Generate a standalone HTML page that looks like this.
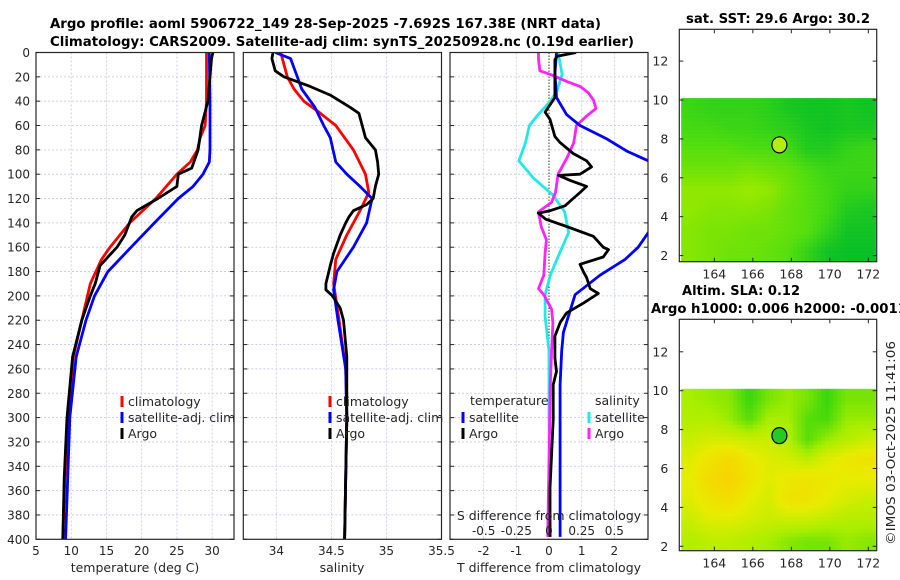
<!DOCTYPE html>
<html><head><meta charset="utf-8"><style>
body{margin:0;background:#fff}
svg{display:block;font-family:"DejaVu Sans","Liberation Sans",sans-serif}
</style></head><body>
<svg id="fig" width="900" height="580" viewBox="0 0 900 580">
<text x="50" y="28" font-weight="bold" font-size="13" fill="#000" textLength="551" lengthAdjust="spacingAndGlyphs">Argo profile: aoml 5906722_149 28-Sep-2025 -7.692S 167.38E (NRT data)</text>
<text x="50" y="46" font-weight="bold" font-size="13" fill="#000" textLength="584" lengthAdjust="spacingAndGlyphs">Climatology: CARS2009. Satellite-adj clim: synTS_20250928.nc (0.19d earlier)</text>
<g id="g"></g>
</svg>
<script>
// ---- temperature panel data ----
const argoTdepth=[0,5,20,40,60,80,95,100,110,120,130,135,150,160,175,190,200,220,250,300,350,400];
const argoT=[30.1,29.9,29.7,29.4,28.5,28.0,27.1,25.2,25.0,22.3,19.3,18.6,17.6,16.5,14.1,13.4,12.7,11.5,10.2,9.4,9.0,8.8];
const climTdepth=[0,40,60,70,80,90,100,120,140,160,170,190,220,250,300,350,400];
const climT=[29.2,29.2,29.0,28.3,27.9,26.9,25.0,22.0,18.3,15.5,14.3,12.7,11.5,10.3,9.5,9.1,8.8];
const satTdepth=[0,40,80,90,100,110,120,140,160,180,200,220,250,300,350,400];
const satT=[29.6,29.7,29.7,29.6,28.7,27.3,25.2,21.8,18.5,15.2,13.3,12.1,10.7,9.8,9.5,9.2];
const tempTicks=[5,10,15,20,25,30];
// ---- salinity panel data ----
const argoSdepth=[0,5,15,20,28,35,45,50,60,70,80,90,100,110,120,125,130,135,140,150,165,175,190,195,200,210,220,250,300,350,400];
const argoS=[33.97,33.96,33.99,34.07,34.31,34.49,34.67,34.75,34.78,34.81,34.9,34.92,34.93,34.9,34.88,34.82,34.7,34.66,34.63,34.58,34.52,34.49,34.45,34.45,34.51,34.58,34.61,34.64,34.64,34.63,34.62];
const climSdepth=[0,20,30,40,50,60,80,100,115,130,150,170,190,220,260,300,400];
const climS=[34.04,34.1,34.16,34.25,34.4,34.54,34.7,34.81,34.84,34.76,34.64,34.54,34.52,34.57,34.63,34.64,34.62];
const satSdepth=[0,5,20,30,45,60,70,90,100,110,120,140,160,180,195,220,260,300,400];
const satS=[33.99,34.13,34.19,34.23,34.35,34.43,34.49,34.54,34.64,34.76,34.87,34.82,34.7,34.55,34.52,34.56,34.63,34.64,34.62];
const salTicks=["34","34.5","35","35.5"];
// ---- difference panel data ----
const satTdiffDepth=[0,17,37,51,60,71,81,89,100,120,135,148,160,170,183,199,217,230,245,273,398];
const satTdiff=[0.23,0.18,0.23,0.54,0.95,1.77,2.38,3.04,3.6,3.8,3.4,3.04,2.73,2.33,1.56,0.8,0.59,0.44,0.39,0.34,0.34];
const argoTdiffDepth=[0,3,6,18,37,49,55,69,74,83,89,94,100,101,105,110,115,120,126,130,132,137,143,151,160,162,168,174,180,185,194,198,206,214,222,233,251,262,273,302,330,358,398];
const argoTdiff=[0.83,0.25,0.18,0.18,0.18,-0.12,0.03,0.18,0.34,0.74,1.15,1.3,0.95,0.29,0.64,1.15,0.95,0.74,0.49,0.03,-0.33,-0.1,0.54,1.36,1.66,1.82,1.66,0.95,1.05,1.15,1.26,1.51,1.05,0.54,0.34,0.18,0.18,0.23,0.13,0.13,0.08,0.03,0.03];
const satSdiffDepth=[0,18,32,40,52,60,74,89,103,117,131,148,165,183,199,217,245,302,398];
const satSdiff=[0.07,0.1,0.06,0.01,-0.09,-0.15,-0.18,-0.23,-0.12,0.03,0.12,0.15,0.08,0.01,-0.03,-0.03,0,0,0.01];
const argoSdiffDepth=[0,6,15,18,24,28,33,39,46,52,60,74,86,100,115,123,131,143,154,165,183,194,199,211,222,245,273,398];
const argoSdiff=[-0.08,-0.08,-0.07,0.01,0.14,0.24,0.3,0.34,0.36,0.29,0.21,0.19,0.14,0.07,0.05,0.02,-0.08,-0.06,-0.02,-0.03,-0.04,-0.08,-0.04,0.02,0.03,0.02,0.01,-0.01];
const tdiffTicks=[-2,-1,0,1,2];
const sdiffTicks=["-0.5","-0.25","0","0.25","0.5"];
const depthTicks=[0,20,40,60,80,100,120,140,160,180,200,220,240,260,280,300,320,340,360,380,400];
// ---- map data (coarse grids, rows lat 10->2, cols lon 162.3->172.4) ----
const sstGrid=[
[0.35,0.3,0.3,0.3,0.25,0.15,0.1,0.1,0.15,0.1],
[0.4,0.4,0.35,0.35,0.3,0.25,0.15,0.1,0.15,0.15],
[0.5,0.5,0.5,0.45,0.45,0.4,0.2,0.2,0.3,0.35],
[0.6,0.6,0.6,0.65,0.6,0.55,0.45,0.35,0.35,0.35],
[0.75,0.75,0.75,0.8,0.75,0.6,0.5,0.4,0.3,0.3],
[0.75,0.7,0.7,0.7,0.65,0.55,0.5,0.4,0.2,0.15],
[0.7,0.65,0.65,0.6,0.6,0.55,0.5,0.3,0.1,0.1],
[0.7,0.65,0.6,0.6,0.55,0.5,0.3,0.1,0.05,0.05]];
const slaGrid=[
[0.45,0.4,0.35,0.1,0.3,0.4,0.3,0.1,0.3,0.3],
[0.5,0.5,0.4,0.2,0.45,0.45,0.2,0.15,0.4,0.4],
[0.6,0.65,0.65,0.6,0.6,0.5,0.2,0.4,0.5,0.6],
[0.7,0.85,0.95,0.8,0.7,0.65,0.55,0.7,0.8,0.85],
[0.75,0.95,1.0,0.85,0.7,0.8,0.85,0.8,0.75,0.75],
[0.7,0.85,0.9,0.75,0.65,0.85,0.85,0.75,0.65,0.6],
[0.6,0.7,0.7,0.65,0.6,0.6,0.6,0.55,0.5,0.5],
[0.5,0.55,0.55,0.5,0.45,0.35,0.3,0.3,0.4,0.35]];
const lonTicks=[164,166,168,170,172];
const latTicks=[2,4,6,8,10,12];
const argoLon=167.38, argoLat=7.69;

const NS="http://www.w3.org/2000/svg";
const G=document.getElementById('g');
function mk(tag,attrs,parent){const e=document.createElementNS(NS,tag);for(const k in attrs)e.setAttribute(k,attrs[k]);(parent||G).appendChild(e);return e;}
function txt(x,y,s,attrs,parent){const t=mk('text',Object.assign({x:x,y:y,'font-size':12,fill:'#262626'},attrs||{}),parent);t.textContent=s;return t;}
const Y0=52.5,Y1=539.3;
const yD=d=>Y0+(d/400)*(Y1-Y0);
function lin(d0,d1,p0,p1){return v=>p0+(v-d0)/(d1-d0)*(p1-p0);}

function panel(name,x0,x1,gridXs){
  const g=mk('g',{});
  
  
  gridXs.forEach(x=>{const l=mk('line',{x1:x,x2:x,y1:Y0,y2:Y1,stroke:'#c0c6ea','stroke-width':0.8,'stroke-dasharray':'2,2'},g);});
  depthTicks.forEach(d=>{if(d>0&&d<400){const l=mk('line',{x1:x0,x2:x1,y1:yD(d),y2:yD(d),stroke:'#c0c6ea','stroke-width':0.8,'stroke-dasharray':'2,2'},g);}
    mk('line',{x1:x0,x2:x0+4,y1:yD(d),y2:yD(d),stroke:'#262626'},g);mk('line',{x1:x1-4,x2:x1,y1:yD(d),y2:yD(d),stroke:'#262626'},g);});
  const cid='clip-'+name;const cp=mk('clipPath',{id:cid},g);mk('rect',{x:x0,y:Y0,width:x1-x0,height:Y1-Y0},cp);
  const inner=mk('g',{'clip-path':'url(#'+cid+')'},g);
  return {g,inner,x0,x1};
}
function frame(p){const r=mk('rect',{x:p.x0,y:Y0,width:p.x1-p.x0,height:Y1-Y0,fill:'none',stroke:'#262626','stroke-width':1.2},p.g);}
function line(p,xs,ds,sx,color,name){
  const d=xs.map((v,i)=>(i?'L':'M')+sx(v).toFixed(1)+','+yD(ds[i]).toFixed(1)).join('');
  const e=mk('path',{d:d,fill:'none',stroke:color,'stroke-width':2.8,'stroke-linejoin':'round'},p.inner);
  
  
}
function legendItem(p,x,y,color,label,name){
  const m=mk('line',{x1:x,x2:x,y1:y-10,y2:y+1,stroke:color,'stroke-width':3},p.g);
  
  const t=txt(x+6,y,label,{'font-size':12.5},p.g);
  
}

// Panel 1 temperature
const sxT=lin(5,33.1,36,234);
const p1=panel('temperature-panel',36,234,tempTicks.slice(1).map(sxT));
line(p1,climT,climTdepth,sxT,'#ff0000','climatology-temp-line');
line(p1,satT,satTdepth,sxT,'#0000ff','satellite-temp-line');
line(p1,argoT,argoTdepth,sxT,'#000000','argo-temp-line');
frame(p1);
depthTicks.forEach(d=>{const t=txt(30,yD(d)+4.5,String(d),{'text-anchor':'end'});});
tempTicks.forEach(v=>{const t=txt(sxT(v),555,String(v),{'text-anchor':'middle'});});
{const t=txt(135,572,'temperature (deg C)',{'text-anchor':'middle','font-size':12.5});}
legendItem(p1,122,406,'#ff0000','climatology','legend-climatology');
legendItem(p1,122,422,'#0000ff','satellite-adj. clim','legend-satellite-adj');
legendItem(p1,122,438,'#000000','Argo','legend-argo');

// Panel 2 salinity
const sxS=lin(33.7,35.5,243.3,441.5);
const p2=panel('salinity-panel',243.3,441.5,[34,34.5,35].map(sxS));
line(p2,climS,climSdepth,sxS,'#ff0000','climatology-sal-line');
line(p2,satS,satSdepth,sxS,'#0000ff','satellite-sal-line');
line(p2,argoS,argoSdepth,sxS,'#000000','argo-sal-line');
frame(p2);
salTicks.forEach(s=>{const t=txt(sxS(parseFloat(s)),555,s,{'text-anchor':'middle'});});
{const t=txt(342,572,'salinity',{'text-anchor':'middle','font-size':12.5});}
legendItem(p2,330,406,'#ff0000','climatology','legend-climatology-2');
legendItem(p2,330,422,'#0000ff','satellite-adj. clim','legend-satellite-adj-2');
legendItem(p2,330,438,'#000000','Argo','legend-argo-2');

// Panel 3 differences
const sxTd=lin(-3.03,3.03,450,648);
const sxSd=lin(-0.7575,0.7575,450,648);
const p3=panel('difference-panel',450,648,[-2,-1,1,2].map(sxTd));
{const z=mk('line',{x1:sxTd(0),x2:sxTd(0),y1:Y0,y2:Y1,stroke:'#304020','stroke-width':1,'stroke-dasharray':'1.5,1.5'},p3.inner);}
line(p3,satSdiff,satSdiffDepth,sxSd,'#22e8e8','satellite-sal-diff-line');
line(p3,argoSdiff,argoSdiffDepth,sxSd,'#ff22ff','argo-sal-diff-line');
line(p3,satTdiff,satTdiffDepth,sxTd,'#0000ff','satellite-temp-diff-line');
line(p3,argoTdiff,argoTdiffDepth,sxTd,'#000000','argo-temp-diff-line');
frame(p3);
tdiffTicks.forEach(v=>{const t=txt(sxTd(v),555,String(v),{'text-anchor':'middle'});});
sdiffTicks.forEach(s=>{const t=txt(sxSd(parseFloat(s)),535,s,{'text-anchor':'middle'});});
{const t=txt(549,520,'S difference from climatology',{'text-anchor':'middle','font-size':12.5});}
{const t=txt(549,572,'T difference from climatology',{'text-anchor':'middle','font-size':12.5});}
{const t=txt(470,405,'temperature',{'font-size':12.5});}
{const t=txt(595,405,'salinity',{'font-size':12.5});}
legendItem(p3,463,422,'#0000ff','satellite','legend-temp-satellite');
legendItem(p3,463,438,'#000000','Argo','legend-temp-argo');
legendItem(p3,589,422,'#22e8e8','satellite','legend-sal-satellite');
legendItem(p3,589,438,'#ff22ff','Argo','legend-sal-argo');

// Maps
function hex(c){return [1,3,5].map(i=>parseInt(c.substr(i,2),16));}
function cmap(stops,v){v=Math.max(0,Math.min(1,v));for(let i=1;i<stops.length;i++){if(v<=stops[i][0]){const a=stops[i-1],b=stops[i];const f=(v-a[0])/(b[0]-a[0]);const ca=hex(a[1]),cb=hex(b[1]);return 'rgb('+ca.map((c,k)=>Math.round(c+(cb[k]-c)*f)).join(',')+')';}}return stops[stops.length-1][1];}
function sample(grid,fx,fy){
  const R=grid.length,C=grid[0].length;
  let x=Math.max(0,Math.min(C-1,fx-0.5)),y=Math.max(0,Math.min(R-1,fy-0.5));
  const i0=Math.floor(x),j0=Math.floor(y),i1=Math.min(C-1,i0+1),j1=Math.min(R-1,j0+1),dx=x-i0,dy=y-j0;
  return grid[j0][i0]*(1-dx)*(1-dy)+grid[j0][i1]*dx*(1-dy)+grid[j1][i0]*(1-dx)*dy+grid[j1][i1]*dx*dy;
}
function drawMap(name,top,bottom,y10,grid,stops,markerColor){
  const g=mk('g',{});
  
  
  const L=679.3,R=876.7,pxDegX=19.25;
  const lonX=lon=>L+(lon-162.18)*pxDegX;
  const latY=lat=>y10-(lat-10)*19.45;
  const dx0=lonX(162.28),dx1=lonX(172.38),dy0=latY(10.1),dy1=bottom;
  const cell=4;
  const hm=mk('g',{},g);
  
  
  for(let y=dy0;y<dy1;y+=cell){for(let x=dx0;x<dx1;x+=cell){
    const fx=(x+cell/2-dx0)/(dx1-dx0)*grid[0].length, fy=(y+cell/2-dy0)/(dy1-dy0)*grid.length;
    mk('rect',{x:x.toFixed(1),y:y.toFixed(1),width:Math.min(cell,dx1-x)+0.3,height:Math.min(cell,dy1-y)+0.3,fill:cmap(stops,sample(grid,fx,fy))},hm);
  }}
  const c=mk('ellipse',{cx:lonX(argoLon),cy:latY(argoLat),rx:7.5,ry:8,fill:markerColor,stroke:'#000','stroke-width':1.2},g);
  
  const fr=mk('rect',{x:L,y:top,width:R-L,height:bottom-top,fill:'none',stroke:'#262626','stroke-width':1.2},g);
  
  latTicks.forEach(v=>{const y=latY(v);mk('line',{x1:L,x2:L+4,y1:y,y2:y,stroke:'#262626'},g);mk('line',{x1:R-4,x2:R,y1:y,y2:y,stroke:'#262626'},g);
    const t=txt(L-11,y+4.5,String(v),{'text-anchor':'end','font-size':12.5},g);});
  lonTicks.forEach(v=>{const x=lonX(v);mk('line',{x1:x,x2:x,y1:bottom-4,y2:bottom,stroke:'#262626'},g);mk('line',{x1:x,x2:x,y1:top,y2:top+4,stroke:'#262626'},g);
    const t=txt(x,bottom+17,String(v),{'text-anchor':'middle','font-size':12.5},g);});
}
drawMap('sst-map',29.3,261.7,100,sstGrid,[[0,'#00bc28'],[0.45,'#4cdc10'],[0.75,'#90e800'],[1,'#c4f000']],'#b4ee10');
drawMap('sla-map',319.3,550.7,390.7,slaGrid,[[0,'#18d010'],[0.45,'#a8ee00'],[0.75,'#e8ec00'],[1,'#f8d400']],'#22cc22');
{const t=txt(778,23,'sat. SST: 29.6 Argo: 30.2',{'text-anchor':'middle','font-weight':'bold','font-size':13,fill:'#000',textLength:184,lengthAdjust:'spacingAndGlyphs'});}
{const t=txt(682,295,'Altim. SLA: 0.12',{'font-weight':'bold','font-size':13,fill:'#000',textLength:118,lengthAdjust:'spacingAndGlyphs'});}
{const t=txt(651,313,'Argo h1000: 0.006 h2000: -0.0011',{'font-weight':'bold','font-size':13,fill:'#000',textLength:256,lengthAdjust:'spacingAndGlyphs'});}
{const t=txt(0,0,'©IMOS 03-Oct-2025 11:41:06',{'text-anchor':'middle','font-size':12.5,transform:'translate(895,443) rotate(-90)',textLength:204,lengthAdjust:'spacingAndGlyphs'});}
</script>
</body></html>
